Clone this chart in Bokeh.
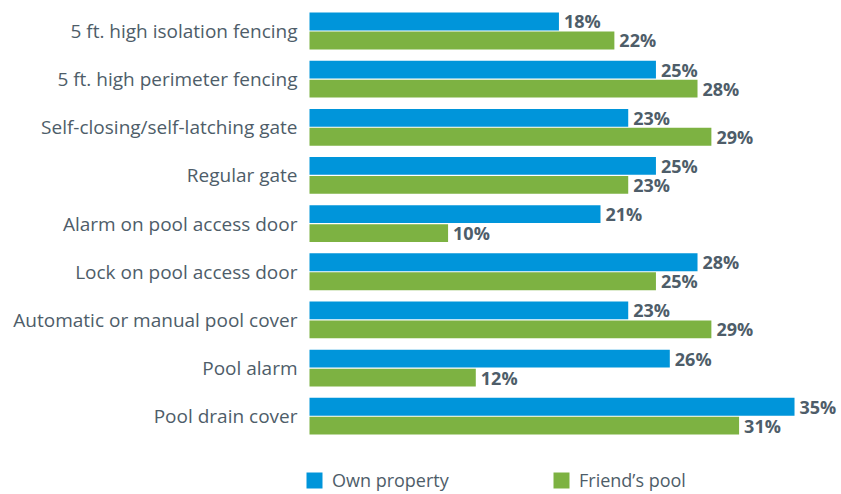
from bokeh.plotting import figure
from bokeh.models import ColumnDataSource, Range1d, FixedTicker, Legend, LegendItem
from bokeh.core.properties import value
from bokeh.embed import file_html
from bokeh.resources import INLINE

categories = ["5 ft. high isolation fencing", "5 ft. high perimeter fencing",
              "Self-closing/self-latching gate", "Regular gate",
              "Alarm on pool access door", "Lock on pool access door",
              "Automatic or manual pool cover", "Pool alarm", "Pool drain cover"]
own_property = [18, 25, 23, 25, 21, 28, 23, 26, 35]
friends_pool = [22, 28, 29, 23, 10, 25, 29, 12, 31]
series_names = ["Own property", "Friend\u2019s pool"]

BLUE = "#0095DA"
GREEN = "#7DB242"
TEXT = "#4E5D69"
FONT = "Open Sans"

n = len(categories)
rows = [n - 1 - i for i in range(n)]
off = 0.197
bar_h = 0.37

src_own = ColumnDataSource(dict(y=[r + off for r in rows], v=own_property,
                                lab=[f"{v}%" for v in own_property]))
src_fr = ColumnDataSource(dict(y=[r - off for r in rows], v=friends_pool,
                               lab=[f"{v}%" for v in friends_pool]))

p = figure(width=841, height=494, output_backend="svg", toolbar_location=None,
           x_range=Range1d(-0.2165, 38.39), y_range=Range1d(-1.626, 8.633),
           x_axis_location=None, min_border_left=306, min_border_right=0,
           min_border_top=0, min_border_bottom=0)
p.outline_line_color = None
p.grid.visible = False
p.background_fill_color = "white"

r1 = p.hbar(y="y", right="v", left=0, height=bar_h, source=src_own,
            fill_color=BLUE, line_color=None)
r2 = p.hbar(y="y", right="v", left=0, height=bar_h, source=src_fr,
            fill_color=GREEN, line_color=None)

for s in (src_own, src_fr):
    p.text(x="v", y="y", text="lab", source=s, x_offset=5,
           text_font=value(FONT), text_font_size="18px", text_font_style="bold",
           text_color=TEXT, text_baseline="middle", text_align="left")

ax = p.yaxis[0]
ax.ticker = FixedTicker(ticks=rows)
ax.major_label_overrides = {r: c for r, c in zip(rows, categories)}
ax.axis_line_color = None
ax.major_tick_line_color = None
ax.minor_tick_line_color = None
ax.major_tick_out = 0
ax.major_tick_in = 0
ax.major_label_standoff = 9
ax.major_label_text_font = FONT
ax.major_label_text_font_size = "19px"
ax.major_label_text_color = TEXT

legend = Legend(items=[LegendItem(label=series_names[0], renderers=[r1]),
                       LegendItem(label=series_names[1], renderers=[r2])],
                orientation="horizontal", location=(-2, 2),
                padding=0, margin=0, spacing=10, label_width=209,
                glyph_width=20, glyph_height=20, label_standoff=8,
                border_line_color=None, background_fill_alpha=0,
                label_text_font=FONT, label_text_font_size="18px",
                label_text_color=TEXT)
p.add_layout(legend, "center")

open("out.html", "w").write(file_html(p, INLINE))
